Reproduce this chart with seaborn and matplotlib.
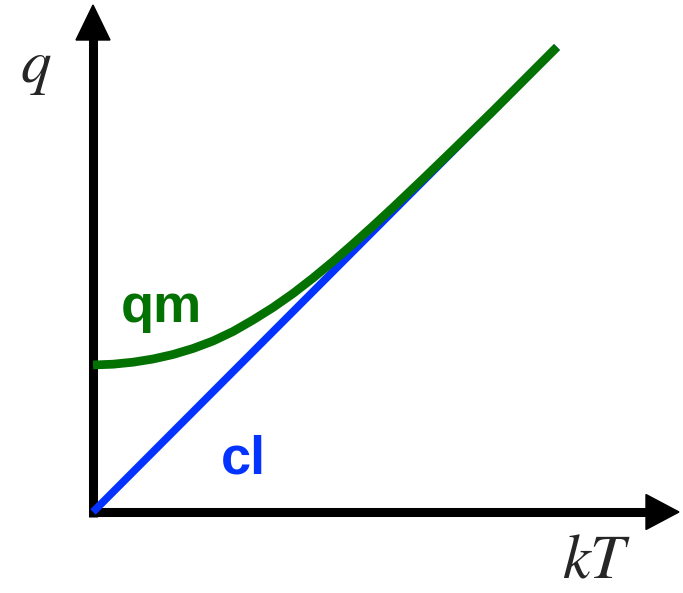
import matplotlib
matplotlib.use("Agg")
import matplotlib.pyplot as plt
from matplotlib.patches import Polygon
import seaborn as sns
import pandas as pd

# Classical limit: straight line q = kT
cl_kT = [0, 464]
cl_q = [0, 465]

# Quantum curve: finite value at kT = 0, joins the classical line at high kT
qm_kT = [0, 20, 40, 60, 80, 100, 120, 140, 160, 180, 200, 220, 240, 260,
         280, 300, 330, 360, 400, 464]
qm_q = [147, 147.8, 149.8, 153, 157.5, 163.5, 171, 180.5, 192, 204.5, 218.5,
        234, 250.5, 268, 286, 304.5, 333, 362, 401, 465]

BLUE = "#0433ff"
GREEN = "#037203"

sns.set_style("white")
plt.rcParams["mathtext.fontset"] = "stix"

fig = plt.figure(figsize=(6.83, 5.93), dpi=100)
ax = fig.add_axes([0, 0, 1, 1])

cl = pd.DataFrame({"kT": cl_kT, "q": cl_q})
qm = pd.DataFrame({"kT": qm_kT, "q": qm_q})

sns.lineplot(data=cl, x="kT", y="q", color=BLUE, lw=5.5, ax=ax,
             solid_capstyle="butt", zorder=3)
sns.lineplot(data=qm, x="kT", y="q", color=GREEN, lw=6.3, ax=ax,
             solid_capstyle="butt", solid_joinstyle="round", zorder=4)

ax.set_xlim(-93, 590)
ax.set_ylim(-81, 512)
ax.set_axis_off()

# Axes with arrow heads
lw_axis = 6.5
ax.plot([-4.5, 555], [0, 0], color="black", lw=lw_axis, solid_capstyle="butt", zorder=2)
ax.plot([0, 0], [-4.5, 474], color="black", lw=lw_axis, solid_capstyle="butt", zorder=2)
ax.add_patch(Polygon([[553, 17.5], [586, 0], [553, -17.5]], closed=True,
                     color="black", zorder=2))
ax.add_patch(Polygon([[-17, 472], [0, 507], [17, 472]], closed=True,
                     color="black", zorder=2))

# Curve labels
ax.text(28, 190, "qm", color=GREEN, fontsize=39, fontweight="bold",
        family="Liberation Sans", ha="left", va="baseline")
ax.text(128, 39, "cl", color=BLUE, fontsize=39, fontweight="bold",
        family="Liberation Sans", ha="left", va="baseline")

# Axis labels
ax.text(-57, 430, r"$q$", fontsize=44, ha="center", va="baseline")
ax.text(469, -66, r"$kT$", fontsize=45, ha="left", va="baseline")

fig.savefig("out.png", dpi=100)
